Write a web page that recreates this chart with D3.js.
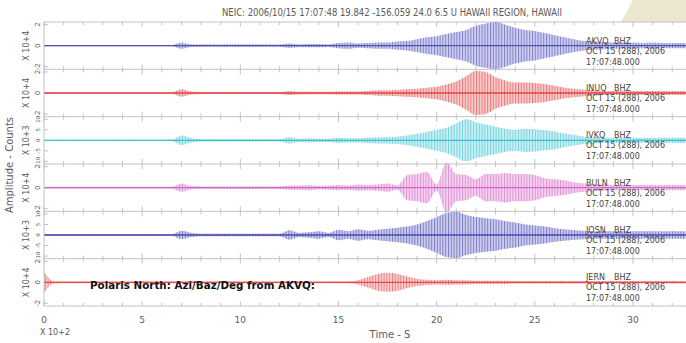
<!DOCTYPE html>
<html>
<head>
<meta charset="utf-8">
<script src="https://cdn.jsdelivr.net/npm/d3@7"></script>
<style>
body { margin: 0; background: #fff; }
text { font-family: "DejaVu Sans", sans-serif; }
</style>
</head>
<body>
<div id="chart"></div>
<script>
var title = "NEIC: 2006/10/15 17:07:48 19.842 -156.059 24.0 6.5 U HAWAII REGION, HAWAII";
var stations = ["AKVQ", "INUQ", "IVKQ", "BULN", "JOSN", "JERN"];
var channel = "BHZ";
var dateLine = "OCT 15 (288), 2006";
var timeLine = "17:07:48.000";
var scaleLabels = ["X 10+4", "X 10+4", "X 10+3", "X 10+4", "X 10+3", "X 10+4"];
var ampTicks = [[-2, 0, 2], [-2, 0, 2], [-10, -5, 0, 5, 10], [-2, 0, 2], [-10, -5, 0, 5, 10], [-2, 0, 2]];
var ampMax = [2.25, 2.25, 11.25, 2.25, 11.25, 2.25];
var timeTicks = [0, 5, 10, 15, 20, 25, 30];
var timeMax = 32.7;
var envStep = 0.5;   // envelope sampled every 0.5 x 10^2 s

// envelope (half peak-to-peak amplitude), t = 0 .. 33
var env1 = [0.06,0.06,0.06,0.06,0.06,0.06,0.06,0.06,0.06,0.06,0.06,0.06,0.06,0.06, 0.3,0.12,
  0.1,0.1,0.1,0.1,0.1,0.1,0.1,0.1,0.1, 0.2,0.12,0.15,0.15,0.12, 0.25,0.3,0.2,0.25,0.3,0.3,
  0.4,0.45,0.6,0.8, 0.9,1.1,1.3,1.5, 1.9,2.1,2.25,2.0, 1.7,1.5,1.4,1.2, 1.0,0.8,0.6,0.45,
  0.4,0.35,0.3,0.3, 0.3,0.25,0.3,0.25, 0.25,0.25,0.25];
var env2 = [0.06,0.06,0.06,0.06,0.06,0.06,0.06,0.06,0.06,0.06,0.06,0.06,0.06,0.06, 0.35,0.15,
  0.1,0.1,0.1,0.1,0.1,0.1,0.1,0.1,0.1, 0.2,0.12,0.12,0.12,0.12, 0.15,0.15,0.15,0.2,0.25,0.25,
  0.3,0.35,0.4,0.5, 0.6,0.8,1.1,1.6, 2.1,2.0,1.5,1.2, 1.0,1.0,0.95,0.85, 0.7,0.5,0.4,0.3,
  0.25,0.2,0.2,0.2, 0.2,0.2,0.2,0.2, 0.2,0.2,0.2];
var env3 = [0.3,0.3,0.3,0.3,0.3,0.3,0.3,0.3,0.3,0.3,0.3,0.3,0.3,0.3, 2.25,1.0,
  0.5,0.5,0.5,0.5,0.5,0.5,0.5,0.5,0.5, 1.5,0.75,1.0,0.75,0.75, 1.25,1.0,1.0,1.25,1.5,1.5,
  1.75,2.25,3.0,4.0, 5.0,6.0,8.0,10.0, 8.5,7.5,6.5,5.5, 5.0,5.5,5.25,4.75, 4.25,3.25,2.5,1.75,
  1.5,1.25,1.25,1.25, 1.25,1.25,1.25,1.25, 1.25,1.25,1.25];
var env4 = [0.08,0.08,0.08,0.08,0.08,0.08,0.08,0.08,0.08,0.08,0.08,0.08,0.08,0.08, 0.4,0.15,
  0.12,0.12,0.12,0.12,0.12,0.12,0.12,0.12,0.12, 0.2,0.2,0.25,0.15,0.2, 0.25,0.2,0.3,0.25,0.3,0.4,
  0.2,1.2,1.3,1.5, 0.3,2.4,1.3,1.2, 0.8,1.3,1.3,1.4, 1.3,1.3,1.2,0.9, 0.8,0.7,0.5,0.4,
  0.35,0.3,0.25,0.25, 0.25,0.25,0.25,0.25, 0.25,0.25,0.25];
var env5 = [0.3,0.3,0.3,0.3,0.3,0.3,0.3,0.3,0.3,0.3,0.3,0.3,0.3,0.3, 2.0,1.0,
  0.6,0.6,0.6,0.6,0.6,0.6,0.6,0.6,0.6, 2.25,1.0,1.25,1.75,1.0, 2.5,1.75,2.75,2.0,2.5,3.0,
  3.5,4.0,5.0,6.5, 8.5,10.5,11.0,9.5, 8.5,8.0,7.5,6.5, 6.0,5.0,4.5,4.0, 3.25,2.75,2.25,2.0,
  1.75,1.75,1.75,1.75, 1.75,1.75,1.75,1.75, 1.75,1.75,1.75];
var env6 = [1.0,0.1,0.08,0.08,0.08,0.08,0.08,0.08,0.08,0.08,0.08,0.08,0.08,0.08, 0.1,0.08,
  0.08,0.08,0.08,0.08,0.08,0.08,0.08,0.08,0.08, 0.08,0.08,0.08,0.08,0.08, 0.08,0.08,0.2,0.5,0.8,0.9,
  0.8,0.55,0.35,0.25, 0.2,0.25,0.2,0.2, 0.15,0.15,0.15,0.15, 0.12,0.12,0.12,0.12, 0.12,0.12,0.12,0.12,
  0.12,0.12,0.12,0.12, 0.12,0.12,0.12,0.12, 0.12,0.12,0.12];
var envelopes = [env1, env2, env3, env4, env5, env6];

var traceColors = ["#5050b4", "#e04444", "#3cc0d0", "#d068c4", "#4848b0", "#e44848"];
var fillColors = ["#aeaee4", "#f4aaaa", "#a8e4ec", "#ecb6e4", "#acace2", "#f6b0b0"];

var W = 686, H = 343,
    plotLeft = 44, plotTop = 22, plotBottom = 306,
    panelH = (plotBottom - plotTop) / 6,
    axisColor = "#c2c2c2",
    textColor = "#5a5a5a";

var svg = d3.select("#chart").append("svg")
    .attr("width", W)
    .attr("height", H);

// beige page corner behind the plot
svg.append("path")
    .attr("d", "M633,0L686,0L686,22L621,22Z")
    .attr("fill", "#ebe7cf");

var x = d3.scaleLinear().domain([0, timeMax]).range([plotLeft, W]);

var defs = svg.append("defs");
traceColors.forEach(function(c, i) {
    var p = defs.append("pattern")
        .attr("id", "wig" + i)
        .attr("patternUnits", "userSpaceOnUse")
        .attr("width", 2.8)
        .attr("height", 10);
    p.append("rect")
        .attr("width", 1)
        .attr("height", 10)
        .attr("fill", c)
        .attr("opacity", 0.6);
});

svg.append("text")
    .attr("x", 392)
    .attr("y", 16)
    .attr("text-anchor", "middle")
    .attr("font-size", 10)
    .attr("fill", textColor)
    .attr("textLength", 340)
    .attr("lengthAdjust", "spacingAndGlyphs")
    .text(title);

var minorTicks = d3.range(0, 33, 1);

envelopes.forEach(function(env, i) {
    var y0 = plotTop + i * panelH,
        y = d3.scaleLinear().domain([-ampMax[i], ampMax[i]]).range([y0 + panelH, y0]),
        g = svg.append("g");

    var pts = env.map(function(a, k) { return {t: k * envStep, a: a}; });

    var area = d3.area()
        .x(function(d) { return x(d.t); })
        .y0(function(d) { return y(-d.a); })
        .y1(function(d) { return y(d.a); })
        .curve(d3.curveMonotoneX);

    // panel frame lines
    g.append("line")
        .attr("x1", plotLeft).attr("x2", W)
        .attr("y1", y0).attr("y2", y0)
        .attr("stroke", axisColor);

    g.selectAll(".tt")
        .data(minorTicks)
        .enter()
        .append("line")
        .attr("x1", function(d) { return x(d); })
        .attr("x2", function(d) { return x(d); })
        .attr("y1", y0)
        .attr("y2", function(d) { return y0 + (d % 5 ? 3 : 5); })
        .attr("stroke", axisColor);

    g.selectAll(".bt")
        .data(minorTicks)
        .enter()
        .append("line")
        .attr("x1", function(d) { return x(d); })
        .attr("x2", function(d) { return x(d); })
        .attr("y1", y0 + panelH)
        .attr("y2", function(d) { return y0 + panelH - (d % 5 ? 3 : 5); })
        .attr("stroke", axisColor);

    // amplitude axis
    g.selectAll(".yt")
        .data(ampTicks[i])
        .enter()
        .append("line")
        .attr("x1", plotLeft)
        .attr("x2", plotLeft + 4)
        .attr("y1", function(d) { return y(d); })
        .attr("y2", function(d) { return y(d); })
        .attr("stroke", axisColor);

    g.selectAll(".yl")
        .data(ampTicks[i])
        .enter()
        .append("text")
        .attr("transform", function(d) { return "translate(" + (plotLeft - 4) + "," + y(d) + ") rotate(-90)"; })
        .attr("text-anchor", "middle")
        .attr("font-size", ampTicks[i].length > 3 ? 5.5 : 7)
        .attr("fill", textColor)
        .text(function(d) { return d; });

    g.append("text")
        .attr("transform", "translate(" + (plotLeft - 15) + "," + y(0) + ") rotate(-90)")
        .attr("text-anchor", "middle")
        .attr("font-size", 8)
        .attr("fill", textColor)
        .text(scaleLabels[i]);

    // trace: envelope filled with wiggles, plus the zero line
    g.append("path")
        .datum(pts)
        .attr("d", area)
        .attr("fill", fillColors[i])
        .attr("opacity", 0.6);

    g.append("path")
        .datum(pts)
        .attr("d", area)
        .attr("fill", "url(#wig" + i + ")");

    g.append("line")
        .attr("x1", x(0)).attr("x2", W)
        .attr("y1", y(0)).attr("y2", y(0))
        .attr("stroke", traceColors[i])
        .attr("stroke-width", 1.4);

    // station header
    var lab = g.append("text")
        .attr("font-size", 8)
        .attr("fill", "#444");
    lab.append("tspan").attr("x", 586).attr("y", y(0) - 2).text(stations[i]);
    lab.append("tspan").attr("x", 614).attr("y", y(0) - 2).text(channel);
    lab.append("tspan").attr("x", 586).attr("y", y(0) + 8).text(dateLine);
    lab.append("tspan").attr("x", 586).attr("y", y(0) + 19).text(timeLine);
});

// bottom axis and left axis lines
svg.append("line")
    .attr("x1", plotLeft).attr("x2", W)
    .attr("y1", plotBottom).attr("y2", plotBottom)
    .attr("stroke", axisColor);

svg.append("line")
    .attr("x1", plotLeft).attr("x2", plotLeft)
    .attr("y1", plotTop).attr("y2", plotBottom)
    .attr("stroke", axisColor);

svg.selectAll(".xl")
    .data(timeTicks)
    .enter()
    .append("text")
    .attr("x", function(d) { return x(d); })
    .attr("y", 323)
    .attr("text-anchor", "middle")
    .attr("font-size", 9)
    .attr("fill", textColor)
    .text(function(d) { return d; });

svg.append("text")
    .attr("x", 40)
    .attr("y", 335)
    .attr("font-size", 8)
    .attr("fill", textColor)
    .text("X 10+2");

svg.append("text")
    .attr("x", 390)
    .attr("y", 338)
    .attr("text-anchor", "middle")
    .attr("font-size", 10)
    .attr("fill", textColor)
    .text("Time - S");

svg.append("text")
    .attr("transform", "translate(13,165) rotate(-90)")
    .attr("text-anchor", "middle")
    .attr("font-size", 10)
    .attr("fill", textColor)
    .text("Amplitude - Counts");

svg.append("text")
    .attr("x", 90)
    .attr("y", 289)
    .attr("font-size", 10)
    .attr("font-weight", "bold")
    .attr("fill", "#111")
    .attr("textLength", 225)
    .attr("lengthAdjust", "spacingAndGlyphs")
    .text("Polaris North: Azi/Baz/Deg from AKVQ:");
</script>
</body>
</html>
